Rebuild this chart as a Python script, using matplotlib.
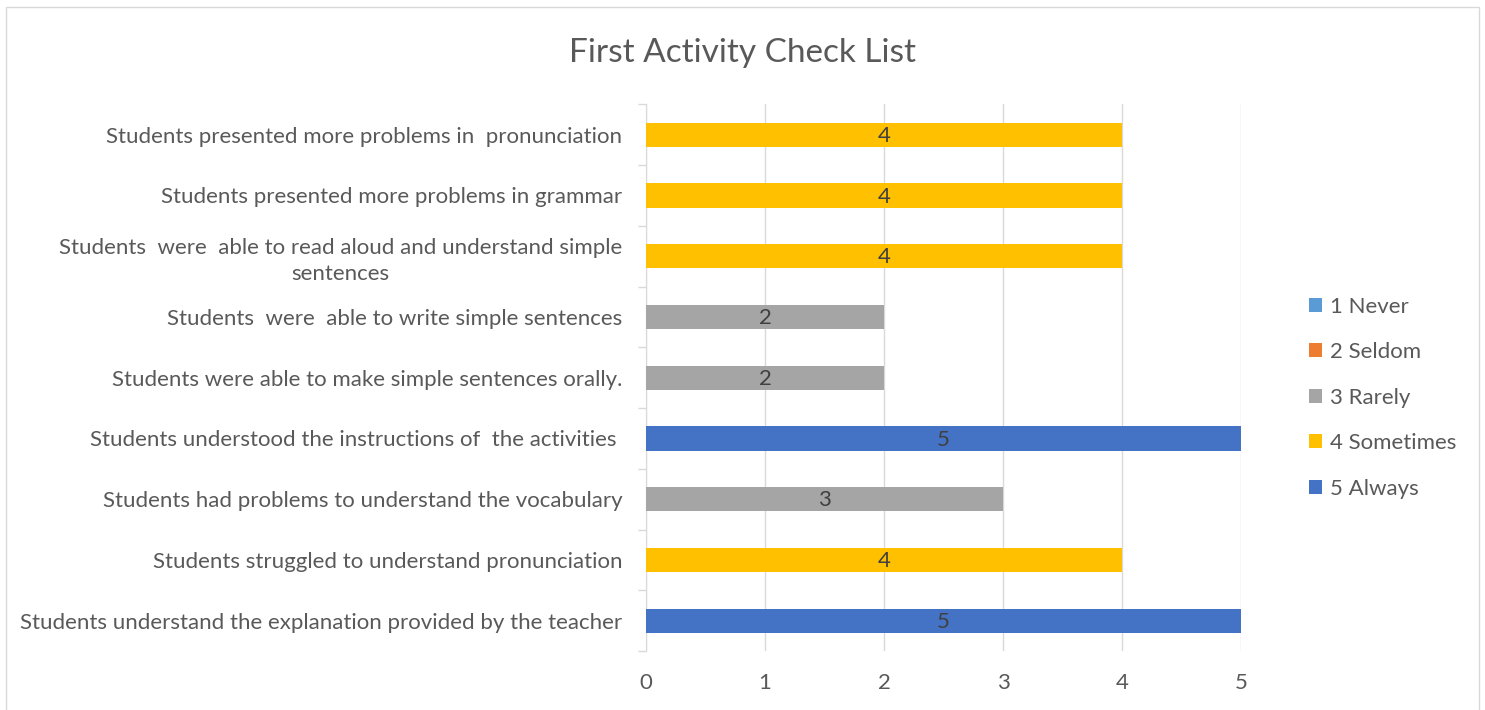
import matplotlib.pyplot as plt
import numpy as np

plt.rcParams['font.family'] = ['Lato', 'DejaVu Sans']

categories = [
    "Students understand the explanation provided by the teacher",
    "Students struggled to understand pronunciation",
    "Students had problems to understand the vocabulary",
    "Students understood the instructions of  the activities ",
    "Students were able to make simple sentences orally.",
    "Students  were  able to write simple sentences",
    "Students  were  able to read aloud and understand simple\nsentences",
    "Students presented more problems in grammar",
    "Students presented more problems in  pronunciation",
]
series_names = ["1 Never", "2 Seldom", "3 Rarely", "4 Sometimes", "5 Always"]
never = [0, 0, 0, 0, 0, 0, 0, 0, 0]
seldom = [0, 0, 0, 0, 0, 0, 0, 0, 0]
rarely = [0, 0, 3, 0, 2, 2, 0, 0, 0]
sometimes = [0, 4, 0, 0, 0, 0, 4, 4, 4]
always = [5, 0, 0, 5, 0, 0, 0, 0, 0]
colors = ["#5B9BD5", "#ED7D31", "#A5A5A5", "#FFC000", "#4472C4"]
xticks = [0, 1, 2, 3, 4, 5]

txt = "#595959"
fs = 16
fig = plt.figure(figsize=(14.85, 7.1), dpi=100)
ax = fig.add_axes([0.435, 0.083, 0.4007, 0.77])

y = np.arange(len(categories))
left = np.zeros(len(categories))
for name, vals, c in zip(series_names, [never, seldom, rarely, sometimes, always], colors):
    vals = np.array(vals, dtype=float)
    bars = ax.barh(y, vals, left=left, height=0.4, color=c, label=name, zorder=3)
    for b, v in zip(bars, vals):
        if v > 0:
            ax.text(b.get_x() + b.get_width() / 2, b.get_y() + b.get_height() / 2 - 0.02, f"{v:g}",
                    ha='center', va='center', fontsize=fs, color="#404040", zorder=4)
    left += vals

ax.set_xlim(0, 5)
ax.set_ylim(-0.5, len(categories) - 0.5)
ax.set_xticks(xticks)
ax.set_yticks(y)
ax.set_yticklabels(categories, fontsize=fs, color=txt, ha='right', multialignment='center',
                   linespacing=1.35)
ax.set_yticks(np.arange(-0.5, len(categories)), minor=True)
ax.tick_params(axis='y', which='major', length=0, pad=17)
ax.tick_params(axis='y', which='minor', length=6, color="#D9D9D9", width=1)
ax.tick_params(axis='x', length=0, pad=16, labelsize=fs, labelcolor=txt)
ax.grid(axis='x', color="#D9D9D9", linewidth=1, zorder=0)
for s in ['top', 'right', 'bottom']:
    ax.spines[s].set_visible(False)
ax.spines['left'].set_color("#D9D9D9")

fig.suptitle("First Activity Check List", x=0.5, y=0.947, fontsize=24, color=txt)

ax.legend(loc='upper left', bbox_to_anchor=(1.08, 0.685), frameon=False, fontsize=fs,
          labelcolor=txt, handlelength=0.6, handleheight=0.6, handletextpad=0.35,
          labelspacing=1.15)

fig.patches.append(plt.Rectangle((0.004, -0.01), 0.992, 1.0, transform=fig.transFigure,
                                 fill=False, edgecolor="#D9D9D9", linewidth=1))
fig.savefig("out.png", dpi=100)
